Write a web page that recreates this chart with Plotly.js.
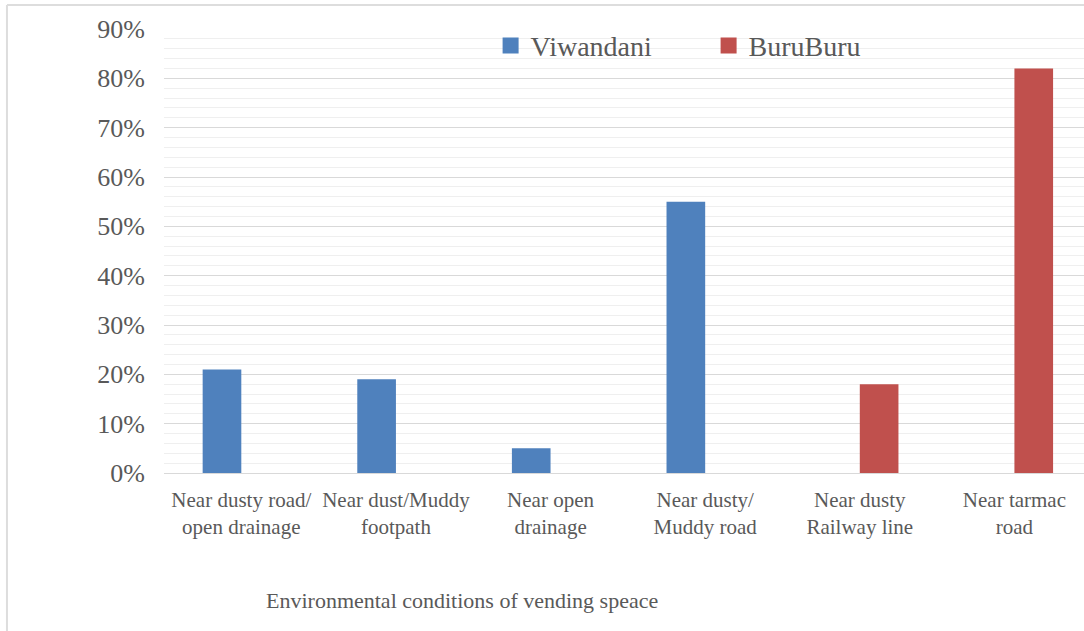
<!DOCTYPE html>
<html>
<head>
<meta charset="utf-8">
<script src="https://cdn.plot.ly/plotly-3.0.1.min.js"></script>
<style>
  html, body { margin: 0; padding: 0; background: #ffffff; }
  #chart { width: 1084px; height: 631px; }
</style>
</head>
<body>
<div id="chart"></div>
<script>
// Share of vendors by environmental condition of the vending space
const categories = [
  "Near dusty road/<br>open drainage",
  "Near dust/Muddy<br>footpath",
  "Near open<br>drainage",
  "Near dusty/<br>Muddy road",
  "Near dusty<br>Railway line",
  "Near tarmac<br>road"
];
const viwandani = [0.21, 0.19, 0.05, 0.55, null, null];
const buruburu  = [null, null, null, null, 0.18, 0.82];
const yTicks = [0, 0.1, 0.2, 0.3, 0.4, 0.5, 0.6, 0.7, 0.8, 0.9];
const yTickText = ["0%", "10%", "20%", "30%", "40%", "50%", "60%", "70%", "80%", "90%"];
const seriesNames = ["Viwandani", "BuruBuru"];
const seriesColors = ["#4F81BD", "#C0504D"];
const xTitle = "Environmental conditions of vending speace";

const serif = "Liberation Serif";
const grey = "#595959";

const traces = [
  { type: "bar", name: seriesNames[0], x: categories, y: viwandani,
    marker: { color: seriesColors[0] }, showlegend: false },
  { type: "bar", name: seriesNames[1], x: categories, y: buruburu,
    marker: { color: seriesColors[1] }, showlegend: false },
  // legend keys: large square swatches for each series
  { type: "scatter", mode: "markers", name: seriesNames[0], x: [categories[0]], y: [null],
    marker: { symbol: "square", size: 18, color: seriesColors[0] } },
  { type: "scatter", mode: "markers", name: seriesNames[1], x: [categories[0]], y: [null],
    marker: { symbol: "square", size: 18, color: seriesColors[1] } }
];

const layout = {
  width: 1084, height: 631,
  margin: { l: 164, r: 0, t: 29, b: 158 },
  paper_bgcolor: "#ffffff", plot_bgcolor: "#ffffff",
  barmode: "group", bargap: 0.5, bargroupgap: 0,
  font: { family: serif, color: grey },
  showlegend: true,
  legend: {
    orientation: "h", x: 0.355, y: 0.962, xanchor: "left", yanchor: "middle",
    font: { family: serif, size: 28, color: grey },
    bgcolor: "rgba(0,0,0,0)", entrywidth: 173, entrywidthmode: "pixels",
    traceorder: "normal", itemsizing: "trace"
  },
  xaxis: {
    type: "category", range: [-0.5, 5.45],
    showgrid: false, showline: false, zeroline: false, ticks: "",
    tickfont: { family: serif, size: 21, color: grey },
    ticklabelstandoff: 12, fixedrange: true
  },
  yaxis: {
    range: [0, 0.9], tickvals: yTicks, ticktext: yTickText,
    showgrid: true, gridcolor: "#d9d9d9", gridwidth: 1,
    minor: { dtick: 0.02, showgrid: true, gridcolor: "#efefef", gridwidth: 1 },
    zeroline: true, zerolinecolor: "#d9d9d9", zerolinewidth: 1,
    showline: false, ticks: "",
    tickfont: { family: serif, size: 26, color: grey },
    ticklabelstandoff: 18, fixedrange: true
  },
  shapes: [
    // chart frame: top and left edges
    { type: "line", xref: "paper", yref: "paper", x0: -0.1707, x1: 1.0, y0: 1.054, y1: 1.054,
      line: { color: "#dddddd", width: 2 } },
    { type: "line", xref: "paper", yref: "paper", x0: -0.1707, x1: -0.1707, y0: 1.054, y1: -0.356,
      line: { color: "#dddddd", width: 2 } }
  ],
  annotations: [
    { text: xTitle, xref: "paper", yref: "paper",
      x: (462 - 164) / 920, y: -(600 - 473) / 444, xanchor: "center", yanchor: "middle",
      showarrow: false, font: { family: serif, size: 22, color: grey } }
  ]
};

Plotly.newPlot("chart", traces, layout, { displayModeBar: false, staticPlot: true });
</script>
</body>
</html>
